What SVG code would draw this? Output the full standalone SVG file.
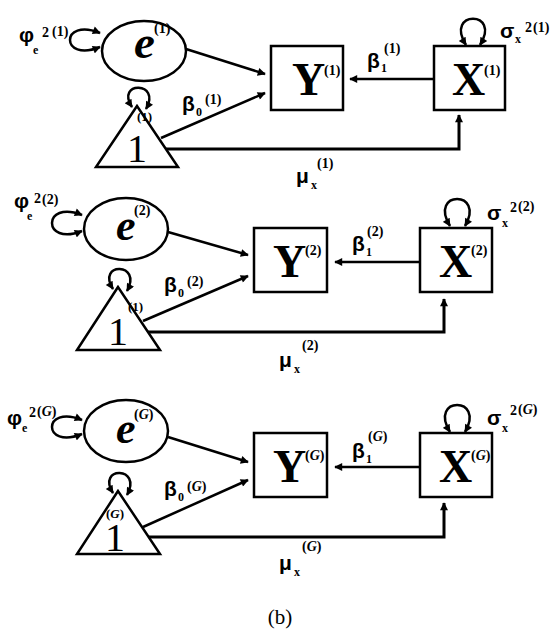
<svg xmlns="http://www.w3.org/2000/svg" width="551" height="633" viewBox="0 0 551 633">
<style>
.gr{font-family:"Liberation Sans",Arial,sans-serif;font-weight:bold;font-size:21px}
.sb{font-family:"Liberation Serif","Times New Roman",serif;font-weight:bold}
.s12{font-size:12px}.s14{font-size:14px}
.big{font-family:"Liberation Serif","Times New Roman",serif;font-weight:bold;font-size:46px}
.ev{font-family:"Liberation Serif","Times New Roman",serif;font-weight:bold;font-style:italic}
.one{font-family:"Liberation Serif","Times New Roman",serif;font-size:40px;text-anchor:middle}
.it{font-style:italic}
.shape{fill:#fff;stroke:#000;stroke-width:2.5}
.ln{fill:none;stroke:#000;stroke-width:2.5}
.arr{marker-end:url(#ah)}
.loop{fill:none;stroke:#000;stroke-width:2.5;marker-start:url(#ah);marker-end:url(#ah)}
</style>
<defs>
<marker id="ah" viewBox="0 0 10 10" refX="9" refY="5" markerWidth="10" markerHeight="8" markerUnits="userSpaceOnUse" orient="auto-start-reverse">
<path d="M0,0 L10,5 L0,10 z" fill="#000"/>
</marker>
</defs>

<g id="connectors">
<path class="loop" d="M100,33 C60,17 60,63 100,47"/>
<path class="loop" d="M132,107 C115,81 162,81 146,109"/>
<path class="loop" d="M466,45 C444,10 502,10 480,45"/>
<line class="ln arr" x1="186" y1="49" x2="265" y2="74"/>
<line class="ln arr" x1="161" y1="138" x2="265" y2="93"/>
<line class="ln arr" x1="434" y1="79" x2="350" y2="79"/>
<path class="ln arr" style="stroke-width:3" d="M166,149 H459 V115"/>
<path class="loop" d="M82,215 C42,199 42,247 82,231"/>
<path class="loop" d="M113,289 C96,262 143,262 127,291"/>
<path class="loop" d="M450,226 C428,190 486,190 465,226"/>
<line class="ln arr" x1="168" y1="232" x2="248" y2="255"/>
<line class="ln arr" x1="143" y1="321" x2="248" y2="276"/>
<line class="ln arr" x1="420" y1="262" x2="335" y2="262"/>
<path class="ln arr" style="stroke-width:3" d="M147,332 H444 V299"/>
<path class="loop" d="M82,420 C42,404 42,450 82,434"/>
<path class="loop" d="M113,493 C96,466 143,466 127,495"/>
<path class="loop" d="M450,432 C428,396 486,396 465,432"/>
<line class="ln arr" x1="168" y1="437" x2="248" y2="462"/>
<line class="ln arr" x1="143" y1="527" x2="248" y2="480"/>
<line class="ln arr" x1="420" y1="467" x2="335" y2="467"/>
<path class="ln arr" style="stroke-width:3" d="M148,537 H444 V503"/>
</g>

<g id="e1">
<ellipse class="shape" cx="144" cy="51" rx="42" ry="30"/>
<text class="ev" x="134" y="58" font-size="47">e</text>
<text class="sb s14" x="154" y="33">(1)</text>
</g>
<g id="one1">
<polygon class="shape" points="137,106 96,167 178,167"/>
<text class="one" x="137" y="162">1</text>
<text class="sb" font-size="13" x="137" y="121">(1)</text>
</g>
<g id="Y1">
<rect class="shape" x="271" y="46" width="72" height="64"/>
<text class="big" x="292" y="95">Y</text>
<text class="sb s14" x="324" y="75">(1)</text>
</g>
<g id="X1">
<rect class="shape" x="434" y="46" width="71" height="64"/>
<text class="big" x="452" y="95">X</text>
<text class="sb s14" x="484" y="75">(1)</text>
</g>
<g id="labels1">
<text class="gr" x="19" y="42">φ</text><text class="sb s12" x="33" y="54">e</text><text class="sb s14" x="42" y="37">2</text><text class="sb s14" x="52" y="36">(1)</text>
<text class="gr" x="182" y="111">β</text><text class="sb s12" x="196" y="116">0</text><text class="sb s14" x="205" y="104">(1)</text>
<text class="gr" x="367" y="68">β</text><text class="sb s12" x="381" y="72">1</text><text class="sb s14" x="384" y="53">(1)</text>
<text class="gr" x="500" y="38">σ</text><text class="sb s12" x="515" y="43">x</text><text class="sb s14" x="525" y="32">2</text><text class="sb s14" x="533" y="32">(1)</text>
<text class="gr" x="296" y="183">μ</text><text class="sb s12" x="311" y="189">x</text><text class="sb s14" x="317" y="168">(1)</text>
</g>

<g id="e2">
<ellipse class="shape" cx="126" cy="229" rx="42" ry="31"/>
<text class="ev" x="116" y="240" font-size="44">e</text>
<text class="sb s14" x="134" y="215">(2)</text>
</g>
<g id="one2">
<polygon class="shape" points="118,287 77,350 160,350"/>
<text class="one" x="118" y="345">1</text>
<text class="sb" font-size="13" x="128" y="311">(1)</text>
</g>
<g id="Y2">
<rect class="shape" x="254" y="228" width="73" height="64"/>
<text class="big" x="273" y="277">Y</text>
<text class="sb s14" x="305" y="255">(2)</text>
</g>
<g id="X2">
<rect class="shape" x="420" y="228" width="72" height="64"/>
<text class="big" x="439" y="277">X</text>
<text class="sb s14" x="471" y="255">(2)</text>
</g>
<g id="labels2">
<text class="gr" x="14" y="208">φ</text><text class="sb s12" x="27" y="220">e</text><text class="sb s14" x="34" y="203">2</text><text class="sb s14" x="42" y="204">(2)</text>
<text class="gr" x="164" y="292">β</text><text class="sb s12" x="178" y="297">0</text><text class="sb s14" x="187" y="286">(2)</text>
<text class="gr" x="352" y="251">β</text><text class="sb s12" x="366" y="256">1</text><text class="sb s14" x="367" y="236">(2)</text>
<text class="gr" x="487" y="220">σ</text><text class="sb s12" x="502" y="227">x</text><text class="sb s14" x="510" y="212">2</text><text class="sb s14" x="518" y="211">(2)</text>
<text class="gr" x="279" y="367">μ</text><text class="sb s12" x="294" y="373">x</text><text class="sb s14" x="302" y="350">(2)</text>
</g>

<g id="eG">
<ellipse class="shape" cx="126" cy="431" rx="42" ry="31"/>
<text class="ev" x="116" y="443" font-size="44">e</text>
<text class="sb s14" x="134" y="419">(<tspan class="it">G</tspan>)</text>
</g>
<g id="oneG">
<polygon class="shape" points="118,491 77,554 160,554"/>
<text class="one" x="115" y="551">1</text>
<text class="sb" font-size="13" x="106" y="518">(<tspan class="it">G</tspan>)</text>
</g>
<g id="YG">
<rect class="shape" x="254" y="433" width="73" height="64"/>
<text class="big" x="273" y="482">Y</text>
<text class="sb s14" x="305" y="460">(<tspan class="it">G</tspan>)</text>
</g>
<g id="XG">
<rect class="shape" x="420" y="433" width="72" height="64"/>
<text class="big" x="439" y="482">X</text>
<text class="sb s14" x="471" y="460">(<tspan class="it">G</tspan>)</text>
</g>
<g id="labelsG">
<text class="gr" x="7" y="425">φ</text><text class="sb s12" x="22" y="432">e</text><text class="sb s14" x="29" y="417">2</text><text class="sb s14" x="37" y="416">(<tspan class="it">G</tspan>)</text>
<text class="gr" x="164" y="496">β</text><text class="sb s12" x="178" y="501">0</text><text class="sb s14" x="187" y="491">(<tspan class="it">G</tspan>)</text>
<text class="gr" x="352" y="458">β</text><text class="sb s12" x="366" y="463">1</text><text class="sb s14" x="368" y="441">(<tspan class="it">G</tspan>)</text>
<text class="gr" x="487" y="425">σ</text><text class="sb s12" x="502" y="432">x</text><text class="sb s14" x="510" y="415">2</text><text class="sb s14" x="518" y="414">(<tspan class="it">G</tspan>)</text>
<text class="gr" x="279" y="570">μ</text><text class="sb s12" x="294" y="576">x</text><text class="sb s14" x="302" y="551">(<tspan class="it">G</tspan>)</text>
</g>

<text x="280" y="624" font-family="'Liberation Serif','Times New Roman',serif" font-size="21" text-anchor="middle">(b)</text>
</svg>
